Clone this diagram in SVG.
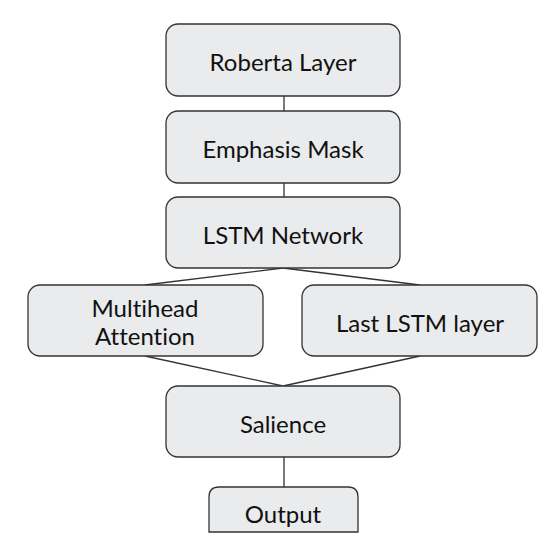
<svg xmlns="http://www.w3.org/2000/svg" width="556" height="549" viewBox="0 0 556 549">
<style>
.box{fill:#e9ebec;stroke:#333;stroke-width:1.3}
.lbl{font-family:Lato,"Open Sans",sans-serif;font-size:24px;fill:#111;text-anchor:middle;dominant-baseline:central;font-variant-ligatures:none}
.edge{stroke:#333;stroke-width:1.3;fill:none}
</style>
<rect width="556" height="549" fill="#fff"/>
<g id="connectors">
<line class="edge" x1="284" y1="96" x2="284" y2="111"/>
<line class="edge" x1="284" y1="183" x2="284" y2="197"/>
<line class="edge" x1="283" y1="268" x2="145" y2="285"/>
<line class="edge" x1="283" y1="268" x2="420" y2="285"/>
<line class="edge" x1="145" y1="356" x2="283" y2="386"/>
<line class="edge" x1="420" y1="356" x2="283" y2="386"/>
<line class="edge" x1="284" y1="457" x2="284" y2="487"/>
</g>
<g id="roberta"><rect class="box" x="166" y="24" width="234" height="72" rx="12"/><text class="lbl" x="283" y="61">Roberta Layer</text></g>
<g id="emphasis"><rect class="box" x="166" y="111" width="234" height="72" rx="12"/><text class="lbl" x="283" y="148">Emphasis Mask</text></g>
<g id="lstm"><rect class="box" x="166" y="197" width="234" height="71" rx="12"/><text class="lbl" x="283" y="234">LSTM Network</text></g>
<g id="multihead"><rect class="box" x="28" y="285" width="235" height="71" rx="12"/><text class="lbl" x="145" y="307">Multihead</text><text class="lbl" x="145" y="335">Attention</text></g>
<g id="lastlstm"><rect class="box" x="302" y="285" width="235" height="71" rx="12"/><text class="lbl" x="420" y="322">Last LSTM layer</text></g>
<g id="salience"><rect class="box" x="166" y="386" width="234" height="71" rx="12"/><text class="lbl" x="283" y="423">Salience</text></g>
<g id="output"><path class="box" d="M209,532 V497 Q209,487 219,487 H348 Q358,487 358,497 V532 Z"/><text class="lbl" x="283" y="513">Output</text></g>
</svg>
